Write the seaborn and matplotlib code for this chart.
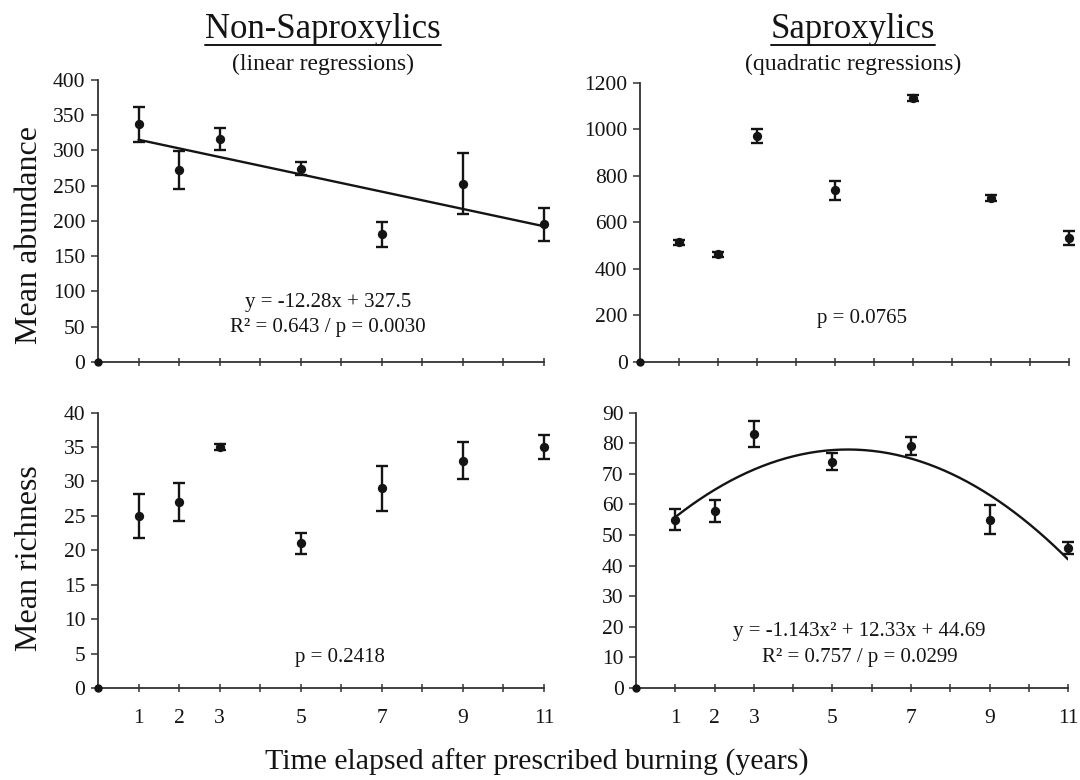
import numpy as np
import pandas as pd
import matplotlib
matplotlib.use("Agg")
import matplotlib.pyplot as plt
from matplotlib.lines import Line2D
import seaborn as sns

# ---------------- data ----------------
years = [1, 2, 3, 5, 7, 9, 11]
xtick_positions = list(range(1, 12))
xtick_labels = ["1", "2", "3", "", "5", "", "7", "", "9", "", "11"]

nonsap_abund = [337, 272, 316, 274, 181, 253, 195]
nonsap_abund_err = [25, 27, 16, 9, 18, 43, 23]
sap_abund = [514, 462, 970, 737, 1133, 705, 533]
sap_abund_err = [10, 10, 30, 40, 12, 12, 30]
nonsap_rich = [25.0, 27.0, 35.0, 21.0, 29.0, 33.0, 35.0]
nonsap_rich_err = [3.2, 2.8, 0.5, 1.5, 3.3, 2.7, 1.8]
sap_rich = [55.0, 57.8, 83.0, 74.0, 79.0, 55.0, 45.8]
sap_rich_err = [3.5, 3.5, 4.3, 2.9, 3.0, 4.7, 2.0]

lin_coef = [-12.28, 327.5]          # y = a x + b
quad_coef = [-1.143, 12.33, 44.69]  # y = a x^2 + b x + c

titles = ["Non-Saproxylics", "Saproxylics"]
subtitles = ["(linear regressions)", "(quadratic regressions)"]
ylabels = ["Mean abundance", "Mean richness"]
xlabel = "Time elapsed after prescribed burning (years)"

# ---------------- style ----------------
sns.set_theme(style="ticks")
plt.rcParams["font.family"] = ["Liberation Serif", "DejaVu Serif"]
INK = "#141414"

fig = plt.figure(figsize=(10.8, 7.8), dpi=100)
fig.patch.set_facecolor("white")

ax_tl = fig.add_axes([0.0907, 0.536, 0.413, 0.3615])
ax_tr = fig.add_axes([0.5926, 0.536, 0.397, 0.358])
ax_bl = fig.add_axes([0.0907, 0.118, 0.413, 0.353])
ax_br = fig.add_axes([0.589, 0.118, 0.400, 0.353])


def draw_panel(ax, yvals, yerr, ylim, ystep, show_xlabels):
    df = pd.DataFrame({"x": years, "y": yvals, "e": yerr})
    ax.errorbar(df["x"], df["y"], yerr=df["e"], fmt="none", ecolor=INK,
                elinewidth=1.7, capsize=4, capthick=1.7, zorder=3, clip_on=False)
    sns.scatterplot(data=df, x="x", y="y", ax=ax, color=INK, s=45,
                    edgecolor=INK, linewidth=0, zorder=4, clip_on=False, legend=False)
    ax.plot([0], [0], "o", color=INK, ms=5, clip_on=False, zorder=5)
    ax.set_xlim(0, 11)
    ax.set_ylim(*ylim)
    ax.set_yticks(np.arange(ylim[0], ylim[1] + ystep / 2, ystep))
    ax.set_xticks(xtick_positions)
    if show_xlabels:
        ax.set_xticklabels(xtick_labels)
    else:
        ax.set_xticklabels([])
    ax.set_xlabel("")
    ax.set_ylabel("")
    for s in ["top", "right"]:
        ax.spines[s].set_visible(False)
    for s in ["left", "bottom"]:
        ax.spines[s].set_color("#333333")
        ax.spines[s].set_linewidth(1.3)
    ax.tick_params(axis="y", direction="out", length=5, width=1.1, colors="#333333",
                   labelsize=15.5, labelcolor=INK, pad=4)
    ax.tick_params(axis="x", direction="inout", length=6, width=1.1, colors="#333333",
                   labelsize=15.5, labelcolor=INK, pad=12)
    ax.set_facecolor("white")


draw_panel(ax_tl, nonsap_abund, nonsap_abund_err, (0, 400), 50, False)
draw_panel(ax_tr, sap_abund, sap_abund_err, (0, 1200), 200, False)
draw_panel(ax_bl, nonsap_rich, nonsap_rich_err, (0, 40), 5, True)
draw_panel(ax_br, sap_rich, sap_rich_err, (0, 90), 10, True)

# regression lines
xs = np.linspace(1, 11, 200)
lin_df = pd.DataFrame({"x": xs, "y": np.polyval(lin_coef, xs)})
quad_df = pd.DataFrame({"x": xs, "y": np.polyval(quad_coef, xs)})
sns.lineplot(data=lin_df, x="x", y="y", ax=ax_tl, color=INK, linewidth=1.7, zorder=2)
sns.lineplot(data=quad_df, x="x", y="y", ax=ax_br, color=INK, linewidth=1.7, zorder=2)
for ax in (ax_tl, ax_br):
    ax.set_xlabel("")
    ax.set_ylabel("")

# annotations
ann_kw = dict(ha="center", va="center", fontsize=15, color=INK)
ax_tl.text(5.67, 85, "y = -12.28x + 327.5", **ann_kw)
ax_tl.text(5.67, 49, "R² = 0.643 / p = 0.0030", **ann_kw)
ax_tr.text(5.7, 188, "p = 0.0765", **ann_kw)
ax_bl.text(5.96, 4.4, "p = 0.2418", **ann_kw)
ax_br.text(5.69, 18.3, "y = -1.143x² + 12.33x + 44.69", **ann_kw)
ax_br.text(5.69, 10.0, "R² = 0.757 / p = 0.0299", **ann_kw)

# y labels
ax_tl.set_ylabel(ylabels[0], fontsize=23, color=INK)
ax_bl.set_ylabel(ylabels[1], fontsize=23, color=INK)
ax_tl.yaxis.set_label_coords(-0.12, 0.45)
ax_bl.yaxis.set_label_coords(-0.12, 0.47)

# titles (underlined)
title_x = [0.299, 0.790]
t_objs = []
for tx, t, st in zip(title_x, titles, subtitles):
    to = fig.text(tx, 0.962, t, ha="center", va="center", fontsize=25, color=INK)
    fig.text(tx, 0.918, st, ha="center", va="center", fontsize=17, color=INK)
    t_objs.append(to)

fig.text(0.497, 0.022, xlabel, ha="center", va="center", fontsize=21.5, color=INK)

fig.canvas.draw()
renderer = fig.canvas.get_renderer()
inv = fig.transFigure.inverted()
for to in t_objs:
    bb = to.get_window_extent(renderer=renderer)
    (x0, y0), (x1, y1) = inv.transform([[bb.x0, bb.y0], [bb.x1, bb.y1]])
    fig.add_artist(Line2D([x0, x1], [y0 + 0.002, y0 + 0.002], transform=fig.transFigure,
                          color=INK, linewidth=1.4))

fig.savefig("out.png", dpi=100, facecolor="white")
